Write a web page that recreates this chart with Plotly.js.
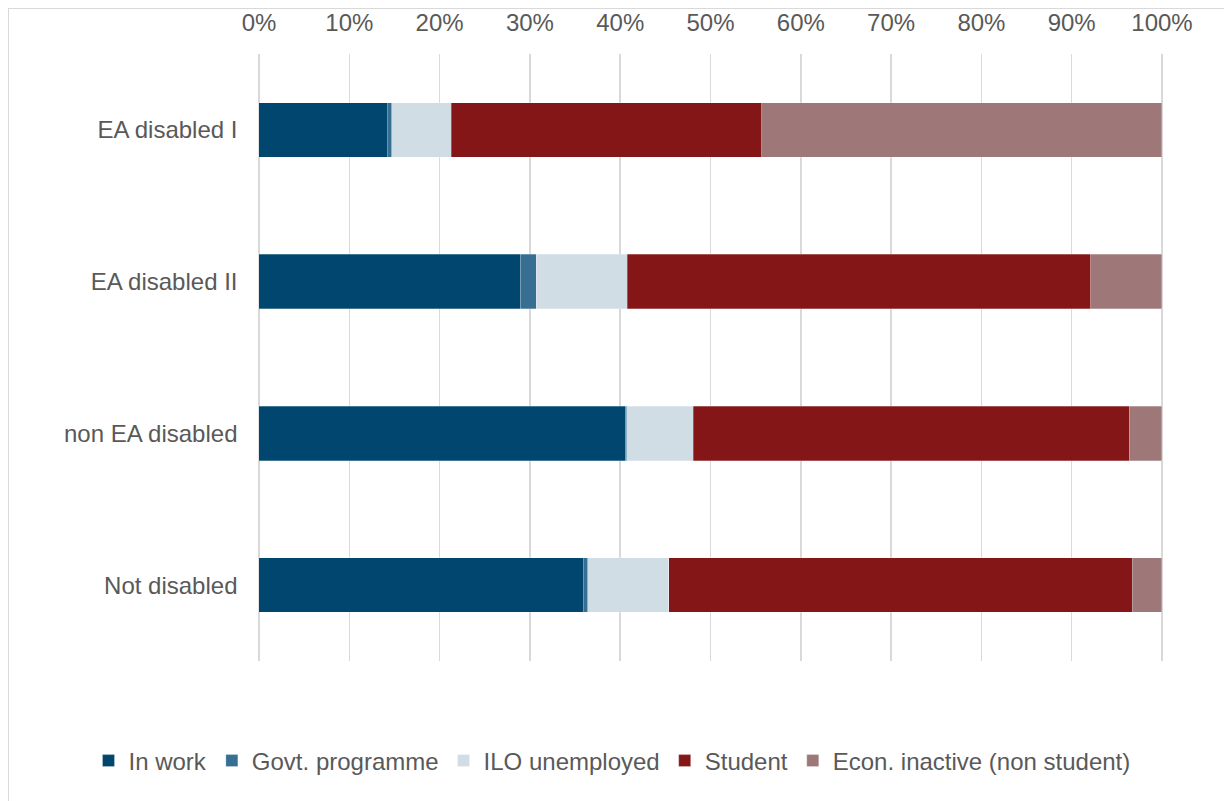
<!DOCTYPE html>
<html>
<head>
<meta charset="utf-8">
<script src="https://cdn.plot.ly/plotly-3.0.1.min.js"></script>
<style>
html,body{margin:0;padding:0;background:#fff;}
#frame{position:absolute;left:8px;top:8px;width:1240px;height:820px;border:1px solid #d9d9d9;box-sizing:border-box;}
#chart{position:absolute;left:0;top:0;width:1224px;height:801px;}
</style>
</head>
<body>
<div id="frame"></div>
<div id="chart"></div>
<script>
const categories = ["EA disabled I", "EA disabled II", "non EA disabled", "Not disabled"];
const inWork = [14.2, 29.0, 40.6, 35.9];
const govtProgramme = [0.5, 1.7, 0.1, 0.5];
const iloUnemployed = [6.6, 10.1, 7.4, 9.0];
const student = [34.4, 51.3, 48.3, 51.3];
const econInactive = [44.3, 7.9, 3.6, 3.3];
const tickVals = [0,10,20,30,40,50,60,70,80,90,100];
const tickText = ["0%","10%","20%","30%","40%","50%","60%","70%","80%","90%","100%"];

const seriesDefs = [
  {name: "In work", values: inWork, color: "#00466e"},
  {name: "Govt. programme", values: govtProgramme, color: "#366f91"},
  {name: "ILO unemployed", values: iloUnemployed, color: "#d0dde5"},
  {name: "Student", values: student, color: "#851618"},
  {name: "Econ. inactive (non student)", values: econInactive, color: "#9e7778"}
];

const traces = seriesDefs.map(s => ({
  type: "bar",
  orientation: "h",
  name: s.name,
  y: categories,
  x: s.values,
  width: 0.36,
  marker: {color: s.color, line: {color: "rgba(255,255,255,0.45)", width: 0.6}},
  hoverinfo: "x+name"
}));

const W = 1224, H = 801;
// pad the axis a few pixels so the 0% and 100% gridlines are drawn
const pad = 0.5; // percent units (~4.5px)
const pxPerPct = (1162 - 259) / 100;
const layout = {
  width: W,
  height: H,
  barmode: "stack",
  paper_bgcolor: "rgba(0,0,0,0)",
  plot_bgcolor: "rgba(0,0,0,0)",
  margin: {l: 0, r: 0, t: 54, b: 140},
  font: {family: "Liberation Sans, Arial, sans-serif", size: 24, color: "#595959"},
  xaxis: {
    domain: [(259 - pad * pxPerPct) / W, (1162 + pad * pxPerPct) / W],
    side: "top",
    range: [-pad, 100 + pad],
    tickvals: tickVals,
    ticktext: tickText,
    showgrid: true,
    gridcolor: "#d9d9d9",
    gridwidth: 1.5,
    zeroline: false,
    showline: false,
    ticks: "",
    ticklabelstandoff: 17,
    tickfont: {size: 24, color: "#595959"},
    fixedrange: true
  },
  yaxis: {
    autorange: "reversed",
    showgrid: false,
    zeroline: false,
    showline: false,
    ticks: "",
    ticklabelstandoff: 16,
    tickfont: {size: 24, color: "#595959"},
    fixedrange: true
  },
  legend: {
    orientation: "h",
    xref: "container",
    yref: "container",
    x: 0.5,
    xanchor: "center",
    y: 1 - 761 / H,
    yanchor: "middle",
    font: {size: 24, color: "#595959"},
    traceorder: "normal",
    itemwidth: 30
  },
  showlegend: true
};

Plotly.newPlot("chart", traces, layout, {displayModeBar: false, staticPlot: true});
</script>
</body>
</html>
